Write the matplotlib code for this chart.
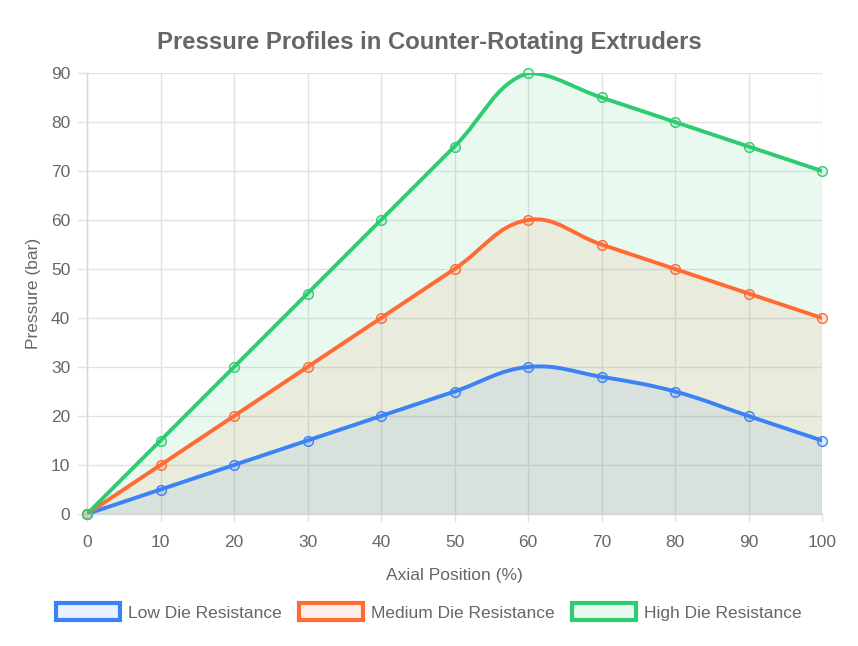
import numpy as np
import matplotlib
matplotlib.use("Agg")
import matplotlib.pyplot as plt
from matplotlib.path import Path
from matplotlib.patches import PathPatch, Patch

plt.rcParams['font.family'] = ['Liberation Sans', 'DejaVu Sans']

positions = [0, 10, 20, 30, 40, 50, 60, 70, 80, 90, 100]
low = [0, 5, 10, 15, 20, 25, 30, 28, 25, 20, 15]
medium = [0, 10, 20, 30, 40, 50, 60, 55, 50, 45, 40]
high = [0, 15, 30, 45, 60, 75, 90, 85, 80, 75, 70]
series_names = ["Low Die Resistance", "Medium Die Resistance", "High Die Resistance"]
colors = ["#3b82f6", "#ff6b35", "#2ecc71"]

XMIN, XMAX, YMIN, YMAX = 0, 100, 0, 90
SX, SY = 735 / 100, 441 / 90  # pixel scaling for spline distance


def spline_path(xs, ys, t=0.4):
    px = np.array(xs, float) * SX
    py = np.array(ys, float) * SY
    n = len(px)
    cps = []
    for i in range(n):
        p0 = (px[max(i - 1, 0)], py[max(i - 1, 0)])
        p1 = (px[i], py[i])
        p2 = (px[min(i + 1, n - 1)], py[min(i + 1, n - 1)])
        d01 = np.hypot(p1[0] - p0[0], p1[1] - p0[1])
        d12 = np.hypot(p2[0] - p1[0], p2[1] - p1[1])
        s01 = d01 / (d01 + d12) if d01 + d12 else 0
        s12 = d12 / (d01 + d12) if d01 + d12 else 0
        fa, fb = t * s01, t * s12
        prev = (p1[0] - fa * (p2[0] - p0[0]), p1[1] - fa * (p2[1] - p0[1]))
        nxt = (p1[0] + fb * (p2[0] - p0[0]), p1[1] + fb * (p2[1] - p0[1]))
        def cap(p):
            return (min(max(p[0] / SX, XMIN), XMAX), min(max(p[1] / SY, YMIN), YMAX))
        cps.append((cap(prev), cap(nxt)))
    verts = [(xs[0], ys[0])]
    codes = [Path.MOVETO]
    for i in range(1, n):
        verts += [cps[i - 1][1], cps[i][0], (xs[i], ys[i])]
        codes += [Path.CURVE4] * 3
    return verts, codes


fig = plt.figure(figsize=(8.58, 6.46), dpi=100)
ax = fig.add_axes([87 / 858, 1 - 514 / 646, 735 / 858, 441 / 646])
ax.set_xlim(XMIN, XMAX)
ax.set_ylim(YMIN, YMAX)

for vals, c, name in zip([low, medium, high], colors, series_names):
    verts, codes = spline_path(positions, vals)
    fverts = verts + [(positions[-1], 0), (positions[0], 0), verts[0]]
    fcodes = codes + [Path.LINETO, Path.LINETO, Path.CLOSEPOLY]
    ax.add_patch(PathPatch(Path(fverts, fcodes), facecolor=matplotlib.colors.to_rgba(c, 0.1),
                           edgecolor='none', zorder=2))
    ax.add_patch(PathPatch(Path(verts, codes), facecolor='none', edgecolor=c, lw=2.8,
                           zorder=3, capstyle='round', joinstyle='round'))
    ax.plot(positions, vals, linestyle='none', marker='o', markersize=7,
            markerfacecolor=matplotlib.colors.to_rgba(c, 0.15), markeredgecolor=c,
            markeredgewidth=1.0, zorder=4, clip_on=False)

ax.set_xticks(positions)
ax.set_yticks(range(0, 91, 10))
ax.grid(True, color='#e2e2e2', lw=1, zorder=0)
ax.set_axisbelow(True)
for s in ['top', 'right']:
    ax.spines[s].set_visible(False)
for s in ['left', 'bottom']:
    ax.spines[s].set_color('#d6d6d6')
    ax.spines[s].set_linewidth(1)
ax.tick_params(axis='x', colors='#e2e2e2', length=6, width=1, labelsize=12.5,
               labelcolor='#666666', pad=9)
ax.tick_params(axis='y', colors='#e2e2e2', length=7, width=1, labelsize=12.5,
               labelcolor='#666666', pad=5)

ax.set_xlabel("Axial Position (%)", fontsize=12.5, color='#666666', labelpad=13)
ax.set_ylabel("Pressure (bar)", fontsize=12.5, color='#666666', labelpad=7)
fig.text(0.5, 1 - 43 / 646, "Pressure Profiles in Counter-Rotating Extruders",
         ha='center', va='center', fontsize=17.2, fontweight='bold', color='#666666')

handles = [Patch(facecolor=matplotlib.colors.to_rgba(c, 0.1), edgecolor=c, linewidth=3, label=n)
           for c, n in zip(colors, series_names)]
fig.legend(handles=handles, loc='center', bbox_to_anchor=(0.5, 1 - 612 / 646), ncol=3,
           frameon=False, fontsize=12.5, handlelength=3.7, handleheight=1.15,
           handletextpad=0.45, columnspacing=1.0, labelcolor='#666666')

fig.savefig("out.png", dpi=100)
